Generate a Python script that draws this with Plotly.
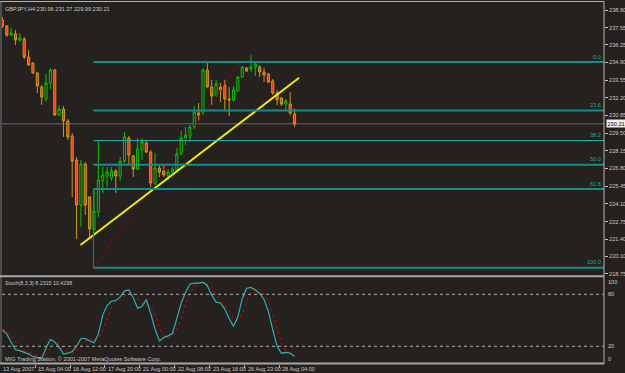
import plotly.graph_objects as go

# ---------------- data ----------------
title_text = "GBPJPY,H4 230.96 231.37 229.99 230.21"
bar_index = list(range(68))
opens = [238.14, 237.68, 236.99, 237.07, 236.61, 236.69, 235.31, 234.85, 234.09, 233.02,
         232.11, 233.33, 234.32, 230.88, 231.34, 230.43, 229.28, 227.45, 224.01, 227.14,
         224.63, 222.11, 223.48, 225.85, 226.23, 226.08, 226.61, 226.23, 227.37, 229.13,
         227.76, 226.76, 228.21, 228.75, 228.06, 225.69, 226.84, 226.61, 226.23, 226.53,
         226.69, 227.91, 229.13, 229.28, 229.97, 231.04, 231.11, 234.32, 233.02, 232.41,
         233.02, 233.17, 232.11, 232.03, 232.72, 233.79, 234.47, 234.40, 234.55, 234.55,
         234.17, 234.01, 233.48, 232.56, 232.18, 231.72, 231.72, 230.96]
highs = [238.37, 237.75, 237.53, 237.37, 237.14, 236.84, 235.85, 234.93, 234.17, 233.17,
         234.01, 234.47, 234.40, 231.65, 231.57, 230.58, 229.51, 227.68, 227.45, 227.30,
         224.70, 225.24, 228.90, 226.92, 226.92, 226.92, 226.76, 227.68, 229.59, 229.28,
         227.83, 229.13, 229.13, 228.98, 228.21, 227.98, 227.07, 227.07, 226.76, 226.92,
         228.37, 229.66, 229.97, 230.12, 231.57, 231.80, 234.47, 234.93, 233.56, 233.56,
         233.33, 233.56, 233.02, 233.10, 233.86, 234.60, 234.55, 235.46, 234.93, 234.70,
         234.47, 234.09, 233.63, 232.79, 232.26, 232.11, 232.64, 231.37]
lows = [237.53, 236.84, 236.92, 236.23, 236.46, 235.16, 234.63, 234.01, 232.56, 231.65,
        231.88, 232.87, 230.81, 230.81, 229.21, 228.98, 224.63, 221.42, 222.34, 223.25,
        221.57, 221.88, 223.10, 224.93, 225.39, 225.85, 224.93, 225.85, 227.22, 227.07,
        226.15, 226.69, 227.45, 227.98, 225.39, 225.54, 226.15, 226.15, 225.92, 226.46,
        226.61, 227.83, 228.59, 228.82, 229.82, 230.40, 230.88, 232.98, 231.65, 232.26,
        231.88, 231.27, 230.81, 231.88, 232.64, 233.74, 234.17, 234.17, 233.86, 233.79,
        233.40, 233.33, 232.41, 231.65, 231.57, 231.19, 230.88, 229.99]
closes = [237.68, 236.99, 237.14, 236.61, 236.76, 235.31, 234.70, 234.09, 233.10, 232.26,
          233.33, 234.32, 230.88, 231.34, 230.43, 229.21, 227.37, 224.01, 227.14, 224.01,
          222.18, 223.56, 225.92, 226.30, 226.53, 226.61, 226.23, 227.37, 229.21, 227.83,
          226.76, 228.29, 228.82, 228.06, 225.69, 226.84, 226.53, 226.30, 226.53, 226.76,
          227.91, 229.13, 229.36, 229.97, 231.11, 230.88, 234.32, 233.02, 232.33, 233.25,
          232.79, 232.11, 232.03, 232.79, 233.79, 234.55, 234.24, 234.55, 234.78, 234.17,
          233.94, 233.40, 232.56, 232.03, 231.72, 231.95, 231.04, 230.21]

stoch_main = [39, 34, 25, 16, 15, 13, 11, 8, 7, 6,
              18, 28, 25, 19, 11, 12, 14, 20, 29, 29,
              26, 24, 34, 56, 67, 72, 73, 77, 84, 85,
              76, 64, 66, 74, 58, 40, 26, 30, 32, 35,
              52, 70, 82, 92, 93, 93, 94, 90, 79, 71,
              70, 63, 52, 43, 54, 75, 87, 88, 85, 81,
              74, 60, 39, 20, 12, 13, 12, 8.2315]
stoch_signal = [40, 37, 33, 25, 19, 15, 13, 11, 9, 7,
                10, 17, 24, 24, 18, 14, 12, 15, 21, 26,
                28, 26, 28, 38, 52, 65, 71, 74, 78, 82,
                82, 75, 69, 68, 66, 57, 41, 32, 29, 32,
                40, 52, 69, 81, 89, 93, 93, 92, 88, 80,
                73, 68, 62, 53, 50, 57, 72, 83, 87, 85,
                80, 72, 58, 40, 24, 15, 12, 10.4298]
stoch_title = "Stoch(8,3,3) 8.2315 10.4298"
copyright_text = "MIG Trading Station, © 2001-2007 MetaQuotes Software Corp."

price_ticks = [238.90, 237.55, 236.25, 234.90, 233.55, 232.20, 230.85, 229.50,
               228.15, 226.80, 225.45, 224.10, 222.75, 221.40, 220.10, 218.75]
price_tick_labels = ["%.2f" % v for v in price_ticks]
time_label_bars = [0, 8, 16, 24, 32, 40, 48, 56, 64]
time_labels = ["13 Aug 2007", "15 Aug 04:00", "16 Aug 12:00", "17 Aug 20:00",
               "21 Aug 00:00", "22 Aug 08:00", "23 Aug 16:00", "26 Aug 23:00", "28 Aug 04:00"]

fib_ratios = [0.0, 0.236, 0.382, 0.5, 0.618, 1.0]
fib_labels = ["0.0", "23.6", "38.2", "50.0", "61.8", "100.0"]
fib_high = 234.93
fib_low = 219.23
fib_start_bar = 20.87
fib_end_bar = 54.6
trend_bars = [17.9, 68.05]
trend_prices = [220.96, 233.73]
stoch_levels = [80, 20]
stoch_axis_labels = [100, 80, 20, 0]
last_price = 230.21

# ---------------- layout geometry ----------------
W, H = 625, 373
XL, XR = 2, 604
MAIN_TOP, MAIN_BOT = 2, 276
SUB_TOP, SUB_BOT = 277, 363.6
BG = "#25211f"
TXT = "#c8c8c8"
FONT = "Liberation Sans"
FS = 5.6


def px_x(p):
    return p / W


def px_y(p):
    return (H - p) / H


fig = go.Figure()

fig.add_trace(go.Candlestick(
    x=bar_index, open=opens, high=highs, low=lows, close=closes,
    increasing=dict(line=dict(color="#00c800", width=1), fillcolor=BG),
    decreasing=dict(line=dict(color="#c89a1c", width=1), fillcolor="#ff2a00"),
    whiskerwidth=0, xaxis="x", yaxis="y", showlegend=False, hoverinfo="skip"))

# fib trend (red dotted)
fig.add_trace(go.Scatter(x=[fib_start_bar, fib_end_bar], y=[fib_low, fib_high], mode="lines",
                         line=dict(color="#b00000", width=1, dash="dot"),
                         xaxis="x", yaxis="y", showlegend=False, hoverinfo="skip"))
# yellow trend line
fig.add_trace(go.Scatter(x=trend_bars, y=trend_prices, mode="lines",
                         line=dict(color="#f0ee00", width=2),
                         xaxis="x", yaxis="y", showlegend=False, hoverinfo="skip"))

# stochastic
fig.add_trace(go.Scatter(x=bar_index, y=stoch_signal, mode="lines",
                         line=dict(color="#e00000", width=1, dash="dot"),
                         xaxis="x2", yaxis="y2", showlegend=False, hoverinfo="skip"))
fig.add_trace(go.Scatter(x=bar_index, y=stoch_main, mode="lines",
                         line=dict(color="#2ab4b4", width=1.2),
                         xaxis="x2", yaxis="y2", showlegend=False, hoverinfo="skip"))

shapes = []
annotations = []
fib_range = fib_high - fib_low
for r, lab in zip(fib_ratios, fib_labels):
    lvl = fib_high - r * fib_range
    thin = (lab == "38.2")
    shapes.append(dict(type="line", xref="x", yref="y", x0=fib_start_bar, x1=140,
                       y0=lvl, y1=lvl,
                       line=dict(color="#2ab0b0" if thin else "#178c8c", width=1 if thin else 2)))
    annotations.append(dict(xref="paper", yref="y", x=px_x(603), y=lvl, text=lab,
                            xanchor="right", yanchor="bottom", showarrow=False, yshift=0.5,
                            font=dict(family=FONT, size=FS, color="#22a8a8")))
# vertical fib leg
shapes.append(dict(type="line", xref="x", yref="y", x0=fib_start_bar, x1=fib_start_bar,
                   y0=fib_low, y1=fib_high - 0.618 * fib_range,
                   line=dict(color="#1a8c7a", width=1)))
# bid line
shapes.append(dict(type="line", xref="paper", yref="y", x0=px_x(XL), x1=px_x(XR),
                   y0=last_price, y1=last_price, line=dict(color="#4c5262", width=1.5), layer="below"))
# stochastic level lines
for lv in stoch_levels:
    shapes.append(dict(type="line", xref="paper", yref="y2", x0=px_x(XL), x1=px_x(XR),
                       y0=lv, y1=lv, line=dict(color="#b0b0b0", width=1, dash="dot")))
# frame
frame = "#b4b4b4"
shapes += [
    dict(type="line", xref="paper", yref="paper", x0=0, x1=px_x(XR), y0=px_y(1.5), y1=px_y(1.5),
         line=dict(color=frame, width=1)),
    dict(type="line", xref="paper", yref="paper", x0=px_x(1), x1=px_x(1), y0=px_y(1.5), y1=px_y(SUB_BOT),
         line=dict(color="#7a7a7a", width=1)),
    dict(type="line", xref="paper", yref="paper", x0=px_x(XR), x1=px_x(XR), y0=px_y(1.5), y1=px_y(SUB_BOT),
         line=dict(color=frame, width=1)),
    dict(type="line", xref="paper", yref="paper", x0=0, x1=px_x(XR), y0=px_y(276.3), y1=px_y(276.3),
         line=dict(color="#a8a8a8", width=2)),
    dict(type="line", xref="paper", yref="paper", x0=0, x1=px_x(XR), y0=px_y(SUB_BOT), y1=px_y(SUB_BOT),
         line=dict(color="#a8a8a8", width=2)),
]

# texts
annotations.append(dict(xref="paper", yref="paper", x=px_x(3), y=px_y(9), text=title_text,
                        xanchor="left", yanchor="middle", showarrow=False,
                        font=dict(family=FONT, size=FS, color=TXT)))
annotations.append(dict(xref="paper", yref="paper", x=px_x(3), y=px_y(282.5), text=stoch_title,
                        xanchor="left", yanchor="middle", showarrow=False,
                        font=dict(family=FONT, size=FS - 0.3, color=TXT)))
annotations.append(dict(xref="paper", yref="paper", x=px_x(3), y=px_y(359), text=copyright_text,
                        xanchor="left", yanchor="middle", showarrow=False,
                        font=dict(family=FONT, size=FS, color=TXT)))
for b, lab in zip(time_label_bars, time_labels):
    annotations.append(dict(xref="x2", yref="paper", x=b, y=px_y(369), text=lab, xshift=-1,
                            xanchor="left", yanchor="middle", showarrow=False,
                            font=dict(family=FONT, size=FS, color=TXT)))
for v in stoch_axis_labels:
    ya = "top" if v == 100 else ("bottom" if v == 0 else "middle")
    annotations.append(dict(xref="paper", yref="y2", x=px_x(606), y=v, text=str(v),
                            xanchor="left", yanchor=ya, showarrow=False,
                            font=dict(family=FONT, size=FS, color=TXT)))
annotations.append(dict(xref="paper", yref="y", x=px_x(605.5), y=last_price, text="%.2f" % last_price,
                        xanchor="left", yanchor="middle", showarrow=False, bgcolor="#eeeeee",
                        borderpad=0.5, font=dict(family=FONT, size=FS, color="#000000")))

x_rng = [-0.1, (XR - XL) / 4.36 - 0.1]
y_top = 238.90 + (10 - MAIN_TOP) / 13.1
y_bot = 238.90 - (MAIN_BOT - 10) / 13.1

fig.update_layout(
    width=W, height=H, margin=dict(l=0, r=0, t=0, b=0),
    paper_bgcolor=BG, plot_bgcolor=BG, template="none", showlegend=False,
    xaxis=dict(domain=[px_x(XL), px_x(XR)], range=x_rng, showgrid=False, zeroline=False,
               showticklabels=False, ticks="", rangeslider=dict(visible=False), anchor="y",
               automargin=False),
    yaxis=dict(domain=[px_y(MAIN_BOT), px_y(MAIN_TOP)], range=[y_bot, y_top], side="right",
               anchor="x", showgrid=False, zeroline=False, tickmode="array",
               tickvals=price_ticks, ticktext=price_tick_labels, ticks="outside", ticklen=3,
               tickcolor="#c0c0c0", tickfont=dict(family=FONT, size=FS, color=TXT),
               automargin=False),
    xaxis2=dict(domain=[px_x(XL), px_x(XR)], range=x_rng, anchor="y2", showgrid=False,
                zeroline=False, showticklabels=False, tickmode="array",
                tickvals=[b - 0.5 for b in time_label_bars], ticks="outside", ticklen=3,
                tickcolor="#b0b0b0", automargin=False),
    yaxis2=dict(domain=[px_y(SUB_BOT), px_y(SUB_TOP)], range=[0, 100], anchor="x2",
                showgrid=False, zeroline=False, showticklabels=False, ticks="", automargin=False),
    shapes=shapes, annotations=annotations,
)

fig.write_html("out.html")
